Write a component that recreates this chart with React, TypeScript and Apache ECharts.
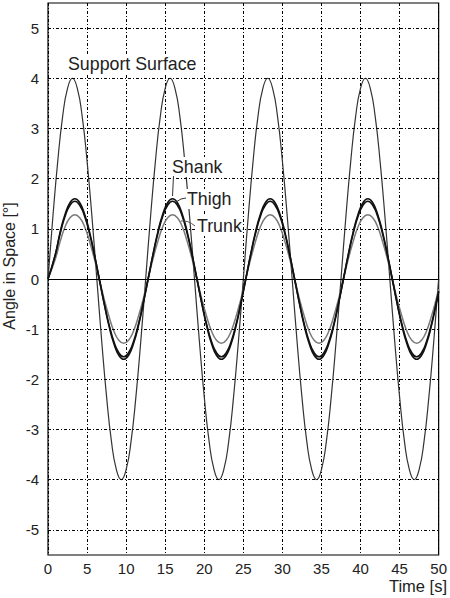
import React, { useEffect, useRef } from "react";
import * as echarts from "echarts";

// Sample times [s] for the support surface
const times = [
  0, 0.625, 1.25, 1.875, 2.5, 3.125, 3.75, 4.375, 5, 5.625, 6.25, 6.875, 7.5, 8.125, 8.75, 9.375, 10, 10.625, 11.25, 11.875,
  12.5, 13.125, 13.75, 14.375, 15, 15.625, 16.25, 16.875, 17.5, 18.125, 18.75, 19.375, 20, 20.625, 21.25, 21.875, 22.5, 23.125, 23.75, 24.375,
  25, 25.625, 26.25, 26.875, 27.5, 28.125, 28.75, 29.375, 30, 30.625, 31.25, 31.875, 32.5, 33.125, 33.75, 34.375, 35, 35.625, 36.25, 36.875,
  37.5, 38.125, 38.75, 39.375, 40, 40.625, 41.25, 41.875, 42.5, 43.125, 43.75, 44.375, 45, 45.625, 46.25, 46.875, 47.5, 48.125, 48.75, 49.375,
  50,
];

// Sample times [s] for the body segments
const bodyTimes = [
  0, 0.9375, 1.5625, 2.1875, 2.8125, 3.4375, 4.0625, 4.6875, 5.3125, 5.9375, 6.5625, 7.1875, 7.8125, 8.4375, 9.0625, 9.6875, 10.3125, 10.9375, 11.5625, 12.1875,
  12.8125, 13.4375, 14.0625, 14.6875, 15.3125, 15.9375, 16.5625, 17.1875, 17.8125, 18.4375, 19.0625, 19.6875, 20.3125, 20.9375, 21.5625, 22.1875, 22.8125, 23.4375, 24.0625, 24.6875,
  25.3125, 25.9375, 26.5625, 27.1875, 27.8125, 28.4375, 29.0625, 29.6875, 30.3125, 30.9375, 31.5625, 32.1875, 32.8125, 33.4375, 34.0625, 34.6875, 35.3125, 35.9375, 36.5625, 37.1875,
  37.8125, 38.4375, 39.0625, 39.6875, 40.3125, 40.9375, 41.5625, 42.1875, 42.8125, 43.4375, 44.0625, 44.6875, 45.3125, 45.9375, 46.5625, 47.1875, 47.8125, 48.4375, 49.0625, 49.6875,
  50,
];

const supportSurface = [
  0, 1.24, 2.35, 3.24, 3.8, 4.0, 3.8, 3.24, 2.35, 1.24, 0, -1.24, -2.35, -3.24, -3.8, -4.0, -3.8, -3.24, -2.35, -1.24,
  0, 1.24, 2.35, 3.24, 3.8, 4.0, 3.8, 3.24, 2.35, 1.24, 0, -1.24, -2.35, -3.24, -3.8, -4.0, -3.8, -3.24, -2.35, -1.24,
  0, 1.24, 2.35, 3.24, 3.8, 4.0, 3.8, 3.24, 2.35, 1.24, 0, -1.24, -2.35, -3.24, -3.8, -4.0, -3.8, -3.24, -2.35, -1.24,
  0, 1.24, 2.35, 3.24, 3.8, 4.0, 3.8, 3.24, 2.35, 1.24, 0, -1.24, -2.35, -3.24, -3.8, -4.0, -3.8, -3.24, -2.35, -1.24,
  0,
];

const shank = [
  0, 0.49, 0.94, 1.29, 1.52, 1.6, 1.52, 1.29, 0.94, 0.49, 0, -0.49, -0.94, -1.29, -1.52, -1.6, -1.52, -1.29, -0.94, -0.49,
  0, 0.49, 0.94, 1.29, 1.52, 1.6, 1.52, 1.29, 0.94, 0.49, 0, -0.49, -0.94, -1.29, -1.52, -1.6, -1.52, -1.29, -0.94, -0.49,
  0, 0.49, 0.94, 1.29, 1.52, 1.6, 1.52, 1.29, 0.94, 0.49, 0, -0.49, -0.94, -1.29, -1.52, -1.6, -1.52, -1.29, -0.94, -0.49,
  0, 0.49, 0.94, 1.29, 1.52, 1.6, 1.52, 1.29, 0.94, 0.49, 0, -0.49, -0.94, -1.29, -1.52, -1.6, -1.52, -1.29, -0.94, -0.49,
  -0.25,
];

const thigh = [
  0, 0.48, 0.91, 1.25, 1.47, 1.55, 1.47, 1.25, 0.91, 0.48, 0, -0.48, -0.91, -1.25, -1.47, -1.55, -1.47, -1.25, -0.91, -0.48,
  0, 0.48, 0.91, 1.25, 1.47, 1.55, 1.47, 1.25, 0.91, 0.48, 0, -0.48, -0.91, -1.25, -1.47, -1.55, -1.47, -1.25, -0.91, -0.48,
  0, 0.48, 0.91, 1.25, 1.47, 1.55, 1.47, 1.25, 0.91, 0.48, 0, -0.48, -0.91, -1.25, -1.47, -1.55, -1.47, -1.25, -0.91, -0.48,
  0, 0.48, 0.91, 1.25, 1.47, 1.55, 1.47, 1.25, 0.91, 0.48, 0, -0.48, -0.91, -1.25, -1.47, -1.55, -1.47, -1.25, -0.91, -0.48,
  -0.24,
];

const trunk = [
  0, 0.4, 0.75, 1.04, 1.22, 1.28, 1.22, 1.04, 0.75, 0.4, 0, -0.4, -0.75, -1.04, -1.22, -1.28, -1.22, -1.04, -0.75, -0.4,
  0, 0.4, 0.75, 1.04, 1.22, 1.28, 1.22, 1.04, 0.75, 0.4, 0, -0.4, -0.75, -1.04, -1.22, -1.28, -1.22, -1.04, -0.75, -0.4,
  0, 0.4, 0.75, 1.04, 1.22, 1.28, 1.22, 1.04, 0.75, 0.4, 0, -0.4, -0.75, -1.04, -1.22, -1.28, -1.22, -1.04, -0.75, -0.4,
  0, 0.4, 0.75, 1.04, 1.22, 1.28, 1.22, 1.04, 0.75, 0.4, 0, -0.4, -0.75, -1.04, -1.22, -1.28, -1.22, -1.04, -0.75, -0.4,
  -0.2,
];

// Y tick values (horizontal grid lines)
const yTicks = [-5, -4, -3, -2, -1, 1, 2, 3, 4, 5];

const FONT = "'Liberation Sans', Arial, Helvetica, sans-serif";
const GRID_DASH = [3, 2, 1, 2];

export default function App() {
  const ref = useRef<HTMLDivElement>(null);

  useEffect(() => {
    document.body.style.margin = "0";
    if (!ref.current) return;
    const chart = echarts.init(ref.current, undefined, { renderer: "svg" });

    const mk = (xs: number[], vals: number[]) => xs.map((t, i) => [t, vals[i]]);

    const labelStyle = (text: string) => ({
      text,
      fontSize: 17.8,
      fontFamily: FONT,
      fill: "#222",
      textAlign: "left",
      textVerticalAlign: "middle",
      backgroundColor: "#fff",
      padding: [1, 1],
    });

    const option: any = {
      animation: false,
      grid: {
        left: 48,
        right: 11,
        top: 3,
        bottom: 43,
        show: true,
        borderColor: "#000",
        borderWidth: 1.2,
      },
      xAxis: {
        type: "value",
        min: 0,
        max: 50,
        interval: 5,
        axisLine: { show: false },
        axisTick: { show: true, inside: true, length: 4, lineStyle: { color: "#000" } },
        axisLabel: { fontSize: 15, fontFamily: FONT, color: "#222", margin: 6 },
        splitLine: { show: true, lineStyle: { color: "#000", width: 1, type: GRID_DASH } },
      },
      yAxis: {
        type: "value",
        min: -5.5,
        max: 5.5,
        interval: 0.5,
        axisLine: { show: false },
        axisTick: { show: false },
        splitLine: { show: false },
        axisLabel: {
          fontSize: 15,
          fontFamily: FONT,
          color: "#222",
          margin: 9,
          showMinLabel: false,
          showMaxLabel: false,
          formatter: (v: number) => (Number.isInteger(v) ? String(v) : ""),
        },
      },
      series: [
        {
          name: "Support Surface",
          type: "line",
          data: mk(times, supportSurface),
          smooth: true,
          showSymbol: false,
          lineStyle: { color: "#333", width: 1.2 },
          z: 3,
          markLine: {
            silent: true,
            symbol: "none",
            label: { show: false },
            data: [
              ...yTicks.map((v) => ({
                yAxis: v,
                lineStyle: { color: "#000", width: 1, type: GRID_DASH },
              })),
              { yAxis: 0, lineStyle: { color: "#000", width: 1.2, type: "solid" } },
            ],
          },
        },
        {
          name: "Trunk",
          type: "line",
          data: mk(bodyTimes, trunk),
          smooth: true,
          showSymbol: false,
          lineStyle: { color: "#7a7a7a", width: 1.5 },
          z: 4,
        },
        {
          name: "Thigh",
          type: "line",
          data: mk(bodyTimes, thigh),
          smooth: true,
          showSymbol: false,
          lineStyle: { color: "#111", width: 1.6 },
          z: 5,
        },
        {
          name: "Shank",
          type: "line",
          data: mk(bodyTimes, shank),
          smooth: true,
          showSymbol: false,
          lineStyle: { color: "#111", width: 1.6 },
          z: 5,
        },
      ],
      graphic: [
        { type: "text", z: 100, x: 67, y: 64, style: labelStyle("Support Surface") },
        { type: "text", z: 100, x: 171, y: 167, style: labelStyle("Shank") },
        { type: "text", z: 100, x: 186, y: 199, style: labelStyle("Thigh") },
        { type: "text", z: 100, x: 196, y: 226, style: labelStyle("Trunk") },
        {
          type: "line",
          z: 101,
          shape: { x1: 173.5, y1: 176, x2: 172.5, y2: 196 },
          style: { stroke: "#333", lineWidth: 1 },
        },
        {
          type: "bezierCurve",
          z: 101,
          shape: { x1: 186, y1: 198, x2: 176, y2: 202, cpx1: 181, cpy1: 198 },
          style: { stroke: "#333", lineWidth: 1, fill: "none" },
        },
        {
          type: "bezierCurve",
          z: 101,
          shape: { x1: 195, y1: 226, x2: 181, y2: 221, cpx1: 188, cpy1: 220 },
          style: { stroke: "#555", lineWidth: 1, fill: "none" },
        },
        {
          type: "text",
          z: 100,
          x: 9,
          y: 266,
          rotation: Math.PI / 2,
          style: {
            text: "Angle in Space [°]",
            fontSize: 16,
            fontFamily: FONT,
            fill: "#222",
            textAlign: "center",
            textVerticalAlign: "middle",
          },
        },
        {
          type: "text",
          z: 100,
          x: 447,
          y: 586,
          style: {
            text: "Time [s]",
            fontSize: 16.5,
            fontFamily: FONT,
            fill: "#222",
            textAlign: "right",
            textVerticalAlign: "middle",
          },
        },
      ],
    };

    chart.setOption(option);
    return () => chart.dispose();
  }, []);

  return <div ref={ref} style={{ width: 450, height: 598 }} />;
}
